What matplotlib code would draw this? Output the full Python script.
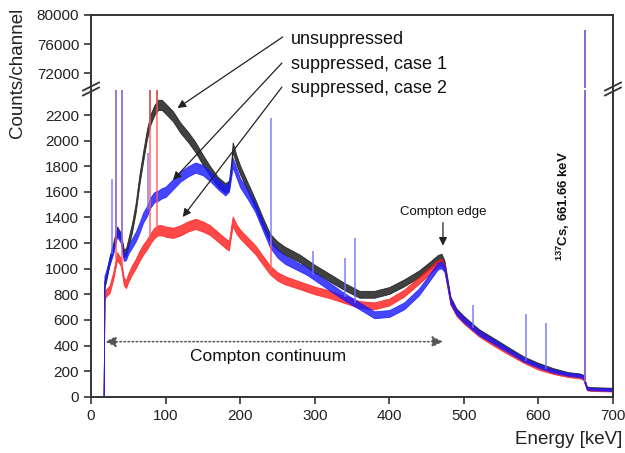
import numpy as np
import matplotlib
matplotlib.use("Agg")
import matplotlib.pyplot as plt
from matplotlib.lines import Line2D

plt.rcParams['font.family'] = ['Liberation Sans', 'DejaVu Sans']
plt.rcParams['mathtext.default'] = 'regular'

# ---------------- data ----------------
energy = [17, 18, 20, 25, 30, 35, 40, 44, 47, 50, 55, 60, 65, 70, 75, 80, 85, 90, 95, 100,
          110, 120, 130, 140, 150, 160, 170, 180, 185, 188, 190, 195, 200, 210, 220, 230, 240,
          250, 260, 270, 280, 290, 300, 320, 340, 360, 380, 400, 420, 440, 455, 465, 470, 474,
          478, 482, 490, 500, 520, 540, 560, 580, 600, 620, 640, 655, 660, 665, 670, 700]

unsuppressed = [0, 880, 920, 1070, 1180, 1300, 1250, 1120, 1130, 1200, 1320, 1480, 1700, 1880,
                2050, 2170, 2240, 2280, 2280, 2250, 2190, 2100, 2030, 1950, 1850, 1760, 1680,
                1630, 1650, 1800, 1950, 1850, 1770, 1640, 1510, 1370, 1240, 1180, 1140, 1110,
                1080, 1040, 1000, 930, 860, 800, 800, 830, 890, 960, 1030, 1080, 1090, 1040,
                900, 760, 670, 610, 510, 440, 370, 300, 250, 210, 180, 170, 160, 70, 65, 60]

case1 = [0, 920, 950, 1060, 1150, 1280, 1230, 1090, 1100, 1150, 1200, 1250, 1320, 1400, 1450,
         1520, 1560, 1570, 1590, 1600, 1660, 1720, 1760, 1790, 1770, 1720, 1660, 1610, 1640,
         1750, 1830, 1750, 1670, 1580, 1480, 1340, 1200, 1120, 1070, 1040, 1010, 980, 940, 860,
         780, 710, 640, 650, 710, 820, 940, 1020, 1030, 1000, 880, 750, 660, 600, 500, 430, 360,
         290, 240, 200, 175, 165, 155, 65, 60, 55]

case2 = [0, 780, 810, 840, 950, 1100, 1050, 900, 880, 930, 990, 1040, 1100, 1150, 1190, 1240,
         1280, 1300, 1300, 1290, 1280, 1300, 1330, 1350, 1330, 1300, 1250, 1200, 1180, 1300,
         1370, 1310, 1270, 1210, 1150, 1070, 990, 940, 910, 890, 870, 850, 830, 800, 760, 720,
         710, 740, 810, 910, 990, 1040, 1050, 1010, 870, 740, 650, 590, 490, 415, 345, 280, 225,
         190, 165, 155, 145, 60, 55, 50]

# half-width of the statistical noise band, same energy grid
noise_half = [15, 25, 28, 30, 30, 30, 30, 30, 32, 34, 36, 38, 40, 40, 40, 40, 40, 40, 40, 40,
              40, 40, 40, 40, 40, 38, 38, 38, 38, 38, 38, 38, 35, 35, 35, 35, 34, 33, 32, 31,
              30, 30, 30, 30, 28, 27, 27, 27, 27, 27, 27, 27, 27, 25, 23, 22, 20, 20, 19, 18,
              16, 15, 14, 13, 12, 12, 12, 10, 10, 10]

# narrow lines (energy in keV, top of the line in counts)
unsup_peak_E = [79, 89, 662]
unsup_peak_H = [2600, 2600, 78000]
case2_peak_E = [34, 41, 79, 89, 242, 662]
case2_peak_H = [2600, 2600, 2600, 2600, 1250, 77500]
case1_peak_E = [28, 34, 41, 76, 242, 298, 341, 354, 512, 584, 610, 662]
case1_peak_H = [1700, 2600, 2600, 1900, 2180, 1140, 1080, 1240, 716, 646, 578, 78000]

x_ticks = [0, 100, 200, 300, 400, 500, 600, 700]
y_ticks_low = [0, 200, 400, 600, 800, 1000, 1200, 1400, 1600, 1800, 2000, 2200]
y_ticks_high = [72000, 76000, 80000]

# ---------------- figure ----------------
W, H = 625, 453
fig = plt.figure(figsize=(W / 100, H / 100), dpi=100)

def fx(px):
    return px / W

def fy(py):
    return 1 - py / H

x0, x1 = 91, 613
ax_lo = fig.add_axes([fx(x0), fy(396.7), fx(x1) - fx(x0), fy(89.5) - fy(396.7)])
ax_hi = fig.add_axes([fx(x0), fy(88.0), fx(x1) - fx(x0), fy(15.0) - fy(88.0)])
ax_hi.patch.set_visible(False)
ax_lo.set_zorder(2)
ax_lo.patch.set_visible(False)

E = np.array(energy, float)
series = [
    (np.array(unsuppressed, float), unsup_peak_E, unsup_peak_H, '#111111', '#444444'),
    (np.array(case2, float), case2_peak_E, case2_peak_H, '#ff1a1a', '#ff5a5a'),
    (np.array(case1, float), case1_peak_E, case1_peak_H, '#1818ff', '#7070ff'),
]
hw = np.array(noise_half, float)

for ax in (ax_lo, ax_hi):
    for vals, pE, pH, col, pcol in series:
        lo = np.clip(vals - hw, 0, None)
        hi = vals + hw
        lo[vals == 0] = 0
        hi[vals == 0] = 0
        ax.fill_between(E, lo, hi, color=col, alpha=0.8, lw=0.6, edgecolor=col)
        base = np.interp(pE, E, vals)
        ax.vlines(pE, base, pH, color=pcol, lw=1.1, alpha=0.9)
    ax.set_xlim(0, 700)

ax_lo.set_ylim(0, 2400)
ax_hi.set_ylim(70000, 80000)

spine_col = '#333333'
for ax in (ax_lo, ax_hi):
    for s in ax.spines.values():
        s.set_color(spine_col)
        s.set_linewidth(1.4)
    ax.tick_params(direction='out', length=5, width=1.2, color=spine_col,
                   labelsize=11, labelcolor='#222222')
ax_lo.spines['top'].set_visible(False)
ax_hi.spines['bottom'].set_visible(False)
ax_hi.set_xticks([])
ax_lo.set_xticks(x_ticks)
ax_lo.set_yticks(y_ticks_low)
ax_hi.set_yticks(y_ticks_high)
ax_lo.tick_params(axis='x', pad=4)

# break marks on both side spines
for xb in (x0, x1):
    for yb in (86.5, 91.5):
        fig.add_artist(Line2D([fx(xb - 8), fx(xb + 8)], [fy(yb + 4), fy(yb - 4)],
                              color=spine_col, lw=1.3))

# axis labels
fig.text(fx(18), fy(73), 'Counts/channel', rotation=90, ha='center', va='center',
         fontsize=13.5, color='#222222')
fig.text(fx(622), fy(440), 'Energy [keV]', ha='right', va='center', fontsize=13.5,
         color='#222222')

# annotations with arrows
arrow_kw = dict(arrowstyle='-|>', color='#222222', lw=0.9, mutation_scale=12,
                shrinkA=0, shrinkB=0)
labels = [('unsuppressed', (268, 2790), (257, 2810), (116, 2255)),
          ('suppressed, case 1', (268, 2595), (256, 2607), (110, 1693)),
          ('suppressed, case 2', (268, 2405), (256, 2419), (123, 1404))]
for txt, tpos, tail, head in labels:
    ax_lo.text(tpos[0], tpos[1], txt, ha='left', va='center', fontsize=13,
               color='#111111', clip_on=False)
    ax_lo.annotate('', xy=head, xytext=tail, arrowprops=arrow_kw, annotation_clip=False)

ax_lo.text(472, 1443, 'Compton edge', ha='center', va='center', fontsize=9.5, color='#111111')
ax_lo.annotate('', xy=(472, 1180), xytext=(472, 1360), arrowprops=arrow_kw)

ax_lo.annotate('', xy=(19, 430), xytext=(472, 430),
               arrowprops=dict(arrowstyle='<|-|>', color='#555555', lw=1.1, linestyle=':',
                               mutation_scale=16, shrinkA=0, shrinkB=0, facecolor='black'))
ax_lo.text(238, 315, 'Compton continuum', ha='center', va='center', fontsize=12.5,
           color='#111111')

ax_lo.text(633, 1490, r'$^{137}$Cs, 661.66 keV', rotation=90, ha='center', va='center',
           fontsize=9.5, fontweight='bold', color='#111111')

fig.savefig('out.png', dpi=100)
